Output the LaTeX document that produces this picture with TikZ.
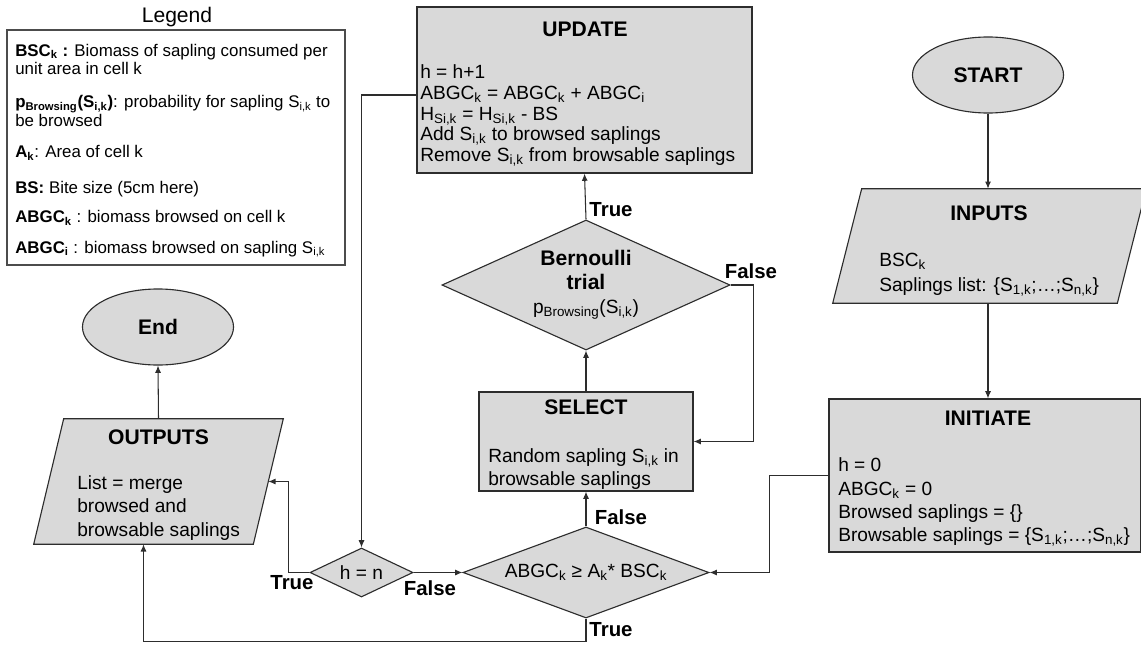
\documentclass[tikz,border=0pt]{standalone}
\usepackage{fontspec}
\setmainfont{Liberation Sans}
\usetikzlibrary{shapes.geometric,arrows.meta,calc}
\definecolor{boxgray}{RGB}{217,217,217}
\definecolor{darkline}{RGB}{45,45,45}
\newcommand{\sbs}[1]{\textsubscript{#1}}
\newcommand{\titlefont}{\fontsize{15}{18}\selectfont\bfseries}

\begin{document}
\begin{tikzpicture}[x=0.025cm, y=-0.025cm,
        box/.style={rectangle, draw=darkline, line width=0.8pt, fill=boxgray, inner sep=0pt},
        iobase/.style={rectangle, inner sep=0pt},
        iofill/.style={draw=darkline, line width=0.8pt, fill=boxgray},
        decision/.style={diamond, draw=darkline, line width=0.8pt, fill=boxgray, inner sep=0pt, align=center,
            font=\fontsize{13.6}{16}\selectfont},
        term/.style={ellipse, draw=darkline, line width=0.8pt, fill=boxgray, font=\titlefont},
        title/.style={font=\titlefont, inner sep=0pt},
        body/.style={anchor=west, align=left, inner sep=0pt, font=\fontsize{13.6}{16.4}\selectfont},
        legtext/.style={anchor=west, align=left, inner sep=0pt, font=\fontsize{12}{13.2}\selectfont},
        lab/.style={font=\fontsize{14.5}{16}\selectfont\bfseries, inner sep=0pt},
        arrow/.style={-{Latex[length=1.8mm,width=1.5mm]}, line width=0.75pt, darkline}]

    \useasboundingbox (0,0) rectangle (1141,644);

    % legend
    \node[font=\fontsize{15}{18}\selectfont] (legtitle) at (177,17) {Legend};
    \node[rectangle, draw=black!70, line width=1pt, minimum width=8.45cm, minimum height=5.875cm] (legend) at (176,147.5) {};
    \node[legtext] (leg1) at (15,59.5) {\textbf{BSC\sbs{k} :} Biomass of sapling consumed per\\unit area in cell k};
    \node[legtext] (leg2) at (15,111) {\textbf{p\sbs{Browsing}(S\sbs{i,k})}: probability for sapling S\sbs{i,k} to\\be browsed};
    \node[legtext] (leg3) at (15,153) {\textbf{A\sbs{k}}: Area of cell k};
    \node[legtext] (leg4) at (15,189) {\textbf{BS:} Bite size (5cm here)};
    \node[legtext] (leg5) at (15,218) {\textbf{ABGC\sbs{k}} : biomass browsed on cell k};
    \node[legtext] (leg6) at (15,249) {\textbf{ABGC\sbs{i}} : biomass browsed on sapling S\sbs{i,k}};

    % shapes
    \node[term, minimum width=3.775cm, minimum height=1.9cm] (start) at (988,75) {START};
    \node[term, minimum width=3.775cm, minimum height=1.9cm] (end) at (158,327) {End};
    \node[box, minimum width=8.375cm, minimum height=4.15cm] (update) at (584.5,90) {};
    \node[box, minimum width=5.35cm, minimum height=2.475cm] (select) at (586,441.5) {};
    \node[box, minimum width=7.8cm, minimum height=3.825cm] (initiate) at (985,475.5) {};
    \node[iobase, minimum width=7.825cm, minimum height=2.85cm] (inputs) at (989.5,246) {};
    \draw[iofill] (inputs.south west) -- ($(inputs.north west)+(29,0)$) -- (inputs.north east)
        -- ($(inputs.south east)+(-29,0)$) -- cycle;
    \node[iobase, minimum width=6.225cm, minimum height=3.125cm] (outputs) at (158.5,481.5) {};
    \draw[iofill] (outputs.south west) -- ($(outputs.north west)+(30,0)$) -- (outputs.north east)
        -- ($(outputs.south east)+(-30,0)$) -- cycle;
    \coordinate (outright) at ($(outputs.east)+(-15,0)$);
    \coordinate (outbottom) at ($(outputs.south)+(-15,0)$);
    \node[decision, shape aspect=2.2, minimum width=7.2cm, minimum height=3.25cm] (bern) at (586,285)
        {{\titlefont Bernoulli}\\[1pt]{\titlefont trial}\\[1pt]p\sbs{Browsing}(S\sbs{i,k})};
    \node[decision, shape aspect=2.7, minimum width=6.15cm, minimum height=2.275cm] (abgc) at (586,572.5)
        {ABGC\sbs{k} ≥ A\sbs{k}* BSC\sbs{k}};
    \node[decision, shape aspect=2.1, minimum width=2.575cm, minimum height=1.225cm] (hn) at (361.5,572.5) {h = n};

    % box texts
    \node[title] (updtitle) at (585,29) {UPDATE};
    \node[body, font=\fontsize{13.6}{14.6}\selectfont] (updtext) at (420,115.5)
        {h = h+1\\ABGC\sbs{k} = ABGC\sbs{k} + ABGC\sbs{i}\\H\sbs{Si,k} = H\sbs{Si,k} - BS\\Add S\sbs{i,k} to browsed saplings\\Remove S\sbs{i,k} from browsable saplings};
    \node[title] (seltitle) at (586,407) {SELECT};
    \node[body] (seltext) at (488,469) {Random sapling S\sbs{i,k} in\\browsable saplings};
    \node[title] (intitle) at (989,213) {INPUTS};
    \node[body, font=\fontsize{13.6}{17.8}\selectfont] (intext) at (879,274.5) {BSC\sbs{k}\\Saplings list: \{S\sbs{1,k};…;S\sbs{n,k}\}};
    \node[title] (inittitle) at (988,418) {INITIATE};
    \node[body] (inittext) at (838,502) {h = 0\\ABGC\sbs{k} = 0\\Browsed saplings = \{\}\\Browsable saplings = \{S\sbs{1,k};…;S\sbs{n,k}\}};
    \node[title] (outtitle) at (158.5,437) {OUTPUTS};
    \node[body] (outtext) at (77,508) {List = merge\\browsed and\\browsable saplings};

    % branch labels
    \node[lab] (true1) at (611,210) {True};
    \node[lab] (false1) at (751,271) {False};
    \node[lab] (false2) at (621,517) {False};
    \node[lab] (true2) at (611,630) {True};
    \node[lab] (true3) at (292,583) {True};
    \node[lab] (false3) at (430,588) {False};

    % connectors
    \draw[arrow] (start.south) -- (start.south |- inputs.north);
    \draw[arrow] (start.south |- inputs.south) -- (start.south |- initiate.north);
    \draw[arrow] (initiate.west) -- ++(-59,0) |- (abgc.east);
    \draw[arrow] (abgc.north) -- (select.south);
    \draw[arrow] (select.north) -- (bern.south);
    \draw[arrow] (bern.north) -- (update.south);
    \draw[arrow] (bern.east) -- ++(23,0) |- (select.east);
    \draw[arrow] ([yshift=-1.25mm]update.west) -| (hn.north);
    \draw[arrow] (hn.east) -- (abgc.west);
    \draw[arrow] (hn.west) -- ++(-21,0) |- (outright);
    \draw[arrow] (abgc.south) -- ++(0,23) -| (outbottom);
    \draw[arrow] (outputs.north) -- (end.south);

\end{tikzpicture}
\end{document}
